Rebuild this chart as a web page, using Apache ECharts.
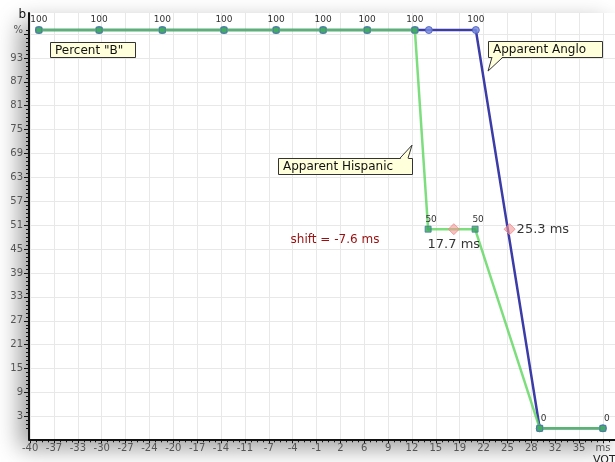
<!DOCTYPE html>
<html>
<head>
<meta charset="utf-8">
<script src="https://cdn.jsdelivr.net/npm/echarts@6/dist/echarts.min.js"></script>
<style>
  html, body { margin: 0; padding: 0; background: #fff; }
  #chart { width: 615px; height: 462px; }
</style>
</head>
<body>
<div id="chart"></div>
<script>
// Identification responses along the VOT continuum (VOT in ms, % "b" responses)
const angloVot = [-38.8, -30.6, -22.0, -13.6, -6.5, -0.1, 5.9, 12.4, 14.3, 20.7, 29.4, 38.0];
const angloPct = [100, 100, 100, 100, 100, 100, 100, 100, 100, 100, 0, 0];
const hispVot  = [-38.8, -30.6, -22.0, -13.6, -6.5, -0.1, 5.9, 12.4, 14.2, 20.6, 29.4, 38.0];
const hispPct  = [100, 100, 100, 100, 100, 100, 100, 100, 50, 50, 0, 0];

// 50% category boundaries (ms): Hispanic, Anglo
const boundaryVot = [17.7, 25.3];
const boundaryPct = [50, 50];

// Axis ticks
const xTickStart = -40;
const xTickStep = 3.25;
const xTickLabels = ['-40', '-37', '-33', '-30', '-27', '-24', '-20', '-17', '-14', '-11', '-7', '-4',
                     '-1', '2', '6', '9', '12', '15', '19', '22', '25', '28', '32', '35', 'ms'];
const yTickValues = [3, 9, 15, 21, 27, 33, 39, 45, 51, 57, 63, 69, 75, 81, 87, 93, 99];
const yTickLabels = ['3', '9', '15', '21', '27', '33', '39', '45', '51', '57', '63', '69', '75', '81', '87', '93', '%'];

const FONT = 'DejaVu Sans';
const X_MIN = -40.15, X_MAX = 39.65, Y_MIN = -2.76, Y_MAX = 104.28;
const GRID = { left: 29, right: 0, top: 13, bottom: 22.7, containLabel: false, outerBoundsMode: 'none' };

const xTickValues = xTickLabels.map((_, i) => xTickStart + i * xTickStep);
const xMinor = [];
for (let v = xTickStart; v <= X_MAX; v += xTickStep / 4) xMinor.push(v);
const yMinor = [];
for (let v = 0; v <= 100; v += 1) yMinor.push(v);

const pointLabel = (dx) => ({
  show: true, position: 'top', distance: 2, offset: [dx, 0],
  fontFamily: FONT, fontSize: 9, color: '#333',
  formatter: p => String(p.value[1])
});

const angloData = angloVot.map((x, i) => {
  const item = { value: [x, angloPct[i]] };
  // the blue curve is labelled where it leaves the 100% plateau
  if (angloPct[i] === 100 && angloPct[i + 1] !== 100) item.label = pointLabel(0);
  return item;
});
const hispData = hispVot.map((x, i) => ({
  value: [x, hispPct[i]],
  label: pointLabel(hispPct[i] === 100 ? 0 : (hispPct[i] === 50 ? 3 : 4))
}));
const boundaryData = boundaryVot.map((x, i) => ({
  value: [x, boundaryPct[i]],
  label: i === 0
    ? { position: 'bottom', distance: 3 }
    : { position: 'right', distance: 1 }
}));

const chart = echarts.init(document.getElementById('chart'), null, { renderer: 'canvas' });

chart.setOption({
  animation: false,
  backgroundColor: '#fff',
  textStyle: { fontFamily: FONT },
  grid: [
    Object.assign({
      show: true, backgroundColor: '#fff', borderWidth: 0,
      shadowBlur: 22, shadowColor: 'rgba(0,0,0,0.4)', shadowOffsetX: -9, shadowOffsetY: 9
    }, GRID),
    Object.assign({ show: false }, GRID)
  ],
  xAxis: [{
    type: 'value', gridIndex: 0, min: X_MIN, max: X_MAX,
    name: 'VOT', nameLocation: 'end', nameGap: -22, nameMoveOverlap: false,
    nameTextStyle: { fontFamily: FONT, fontSize: 11, color: '#222', align: 'left', verticalAlign: 'top', padding: [15, 0, 0, 0] },
    axisLine: { show: true, onZero: false, lineStyle: { color: '#111', width: 2 } },
    axisTick: { show: true, customValues: xTickValues, length: 4, lineStyle: { color: '#111' } },
    axisLabel: {
      customValues: xTickValues, margin: 4, fontSize: 10, color: '#555', fontFamily: FONT,
      formatter: v => xTickLabels[Math.round((v - xTickStart) / xTickStep)]
    },
    splitLine: { show: true, lineStyle: { color: '#e8e8e8', width: 1 } }
  }, {
    type: 'value', gridIndex: 1, min: X_MIN, max: X_MAX, position: 'bottom',
    axisLine: { show: false, onZero: false }, axisLabel: { show: false }, splitLine: { show: false },
    axisTick: { show: true, customValues: xMinor, length: 3, lineStyle: { color: '#111' } }
  }],
  yAxis: [{
    type: 'value', gridIndex: 0, min: Y_MIN, max: Y_MAX,
    name: 'b', nameLocation: 'end', nameGap: -2, nameMoveOverlap: false,
    nameTextStyle: { fontFamily: FONT, fontSize: 12, color: '#111', align: 'right', verticalAlign: 'middle', padding: [0, 3, 0, 0] },
    axisLine: { show: true, onZero: false, lineStyle: { color: '#111', width: 2 } },
    axisTick: { show: true, customValues: yTickValues, length: 5, lineStyle: { color: '#111' } },
    axisLabel: {
      customValues: yTickValues, margin: 6, fontSize: 10, color: '#555', fontFamily: FONT,
      formatter: v => {
        const t = yTickLabels[yTickValues.indexOf(v)];
        return t === '%' ? '{pct|%}' : t;
      },
      rich: { pct: { fontSize: 10, color: '#555', fontFamily: FONT, padding: [0, 0, 8, 0] } }
    },
    splitLine: { show: true, lineStyle: { color: '#e8e8e8', width: 1 } }
  }, {
    type: 'value', gridIndex: 1, min: Y_MIN, max: Y_MAX, position: 'left',
    axisLine: { show: false, onZero: false }, axisLabel: { show: false }, splitLine: { show: false },
    axisTick: { show: true, customValues: yMinor, length: 3, lineStyle: { color: '#111' } }
  }],
  series: [{
    name: 'Apparent Anglo', type: 'line', xAxisIndex: 0, yAxisIndex: 0,
    data: angloData,
    lineStyle: { color: '#3c3ca8', width: 2.5 },
    symbol: 'circle', symbolSize: 7,
    itemStyle: { color: 'rgba(120,140,225,0.85)', borderColor: 'rgba(80,95,190,0.9)', borderWidth: 1 },
    z: 2
  }, {
    name: 'Apparent Hispanic', type: 'line', xAxisIndex: 0, yAxisIndex: 0,
    data: hispData,
    lineStyle: { color: '#5cd65c', width: 2.5, opacity: 0.8 },
    symbol: 'rect', symbolSize: 6,
    itemStyle: { color: 'rgba(60,170,90,0.85)', borderColor: 'rgba(70,120,160,0.8)', borderWidth: 1 },
    z: 3
  }, {
    name: 'boundary', type: 'scatter', xAxisIndex: 0, yAxisIndex: 0,
    data: boundaryData,
    symbol: 'diamond', symbolSize: 11,
    itemStyle: { color: 'rgba(245,150,150,0.75)', borderColor: 'rgba(235,130,130,0.9)', borderWidth: 1 },
    label: { show: true, fontFamily: FONT, fontSize: 13, color: '#000', formatter: p => p.value[0].toFixed(1) + ' ms' },
    z: 4
  }]
});

// Callout boxes anchored at data positions; offsets are in pixels from the anchor
const callouts = [
  { text: 'Percent "B"', at: [-37.29, 97.0], box: [0, 0, 85, 15], tail: null },
  { text: 'Apparent Anglo', at: [22.36, 89.7], box: [0, -30, 114, 16], tail: [[4, -14], [15, -14]] },
  { text: 'Apparent Hispanic', at: [12.01, 71.1], box: [-134, 13, 134, 16], tail: [[-12, 13], [-4, 13]] }
];
const shiftText = 'shift = ' + (boundaryVot[0] - boundaryVot[1]).toFixed(1) + ' ms';

const els = [];
callouts.forEach(c => {
  const [px, py] = chart.convertToPixel({ gridIndex: 0 }, c.at);
  const [bx, by, bw, bh] = c.box;
  els.push({
    type: 'rect', z: 100,
    shape: { x: Math.round(px + bx) + 0.5, y: Math.round(py + by) + 0.5, width: bw, height: bh },
    style: { fill: '#ffffdc', stroke: '#333', lineWidth: 1 }
  });
  if (c.tail) {
    els.push({
      type: 'polygon', z: 101,
      shape: { points: [[px + c.tail[0][0], py + c.tail[0][1] + (c.tail[0][1] < 0 ? -0.5 : 1)], [px, py], [px + c.tail[1][0], py + c.tail[1][1] + (c.tail[1][1] < 0 ? -0.5 : 1)]] },
      style: { fill: '#ffffdc', stroke: null }
    });
    els.push({
      type: 'polyline', z: 102,
      shape: { points: [[px + c.tail[0][0], py + c.tail[0][1]], [px, py], [px + c.tail[1][0], py + c.tail[1][1]]] },
      style: { stroke: '#333', lineWidth: 1, fill: null }
    });
  }
  els.push({
    type: 'text', z: 103,
    x: Math.round(px + bx) + 5, y: Math.round(py + by) + bh / 2 + 1,
    style: { text: c.text, fontFamily: FONT, fontSize: 12, fill: '#111', verticalAlign: 'middle', align: 'left' }
  });
});
const [sx, sy] = chart.convertToPixel({ gridIndex: 0 }, [1.52, 47.3]);
els.push({
  type: 'text', z: 103, x: sx, y: sy,
  style: { text: shiftText, fontFamily: FONT, fontSize: 12, fill: '#9a0f0f', align: 'center', verticalAlign: 'middle' }
});
chart.setOption({ graphic: { elements: els } });
</script>
</body>
</html>
